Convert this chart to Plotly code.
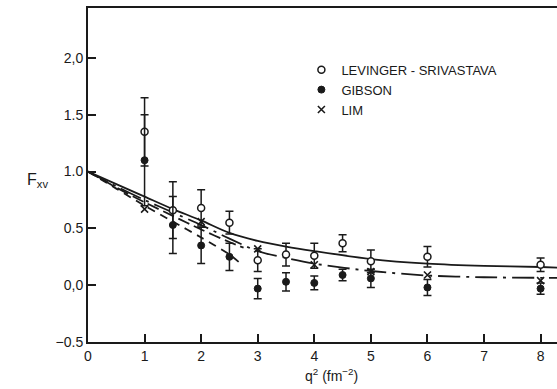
import plotly.graph_objects as go

# --- data ---
q2_lev = [1, 1.5, 2, 2.5, 3, 3.5, 4, 4.5, 5, 6, 8]
f_lev = [1.35, 0.66, 0.68, 0.55, 0.22, 0.27, 0.26, 0.37, 0.21, 0.25, 0.18]
e_lev = [0.30, 0.25, 0.16, 0.10, 0.10, 0.10, 0.11, 0.075, 0.10, 0.09, 0.06]

q2_gib = [1, 1.5, 2, 2.5, 3, 3.5, 4, 4.5, 5, 6, 8]
f_gib = [1.10, 0.53, 0.35, 0.25, -0.03, 0.03, 0.02, 0.09, 0.06, -0.02, -0.03]
e_gib = [0.40, 0.25, 0.16, 0.12, 0.09, 0.08, 0.06, 0.05, 0.08, 0.07, 0.05]

q2_lim = [1, 2, 3, 4, 5, 6, 8]
f_lim = [0.67, 0.56, 0.32, 0.18, 0.12, 0.09, 0.04]

# theory curves
q2_solid = [0, 0.5, 1, 1.5, 2, 2.5, 3, 3.5, 4, 5, 6, 7, 8, 8.3]
f_solid = [1.0, 0.89, 0.78, 0.67, 0.57, 0.46, 0.39, 0.34, 0.30, 0.23, 0.19, 0.17, 0.16, 0.155]

q2_dashdot = [0, 0.5, 1, 1.5, 2, 2.5, 3, 3.5, 4, 5, 6, 7, 8, 8.3]
f_dashdot = [1.0, 0.87, 0.75, 0.64, 0.53, 0.41, 0.30, 0.24, 0.19, 0.125, 0.085, 0.07, 0.065, 0.065]

q2_longdash = [0, 0.5, 1, 1.5, 2, 2.5, 2.75]
f_longdash = [1.0, 0.86, 0.73, 0.61, 0.49, 0.38, 0.33]

q2_shortdash = [0, 0.5, 1, 1.5, 2, 2.5, 2.7]
f_shortdash = [1.0, 0.85, 0.70, 0.56, 0.42, 0.27, 0.19]

x_ticks = [0, 1, 2, 3, 4, 5, 6, 7, 8]
x_ticklabels = ["0", "1", "2", "3", "4", "5", "6", "7", "8"]
y_ticks = [-0.5, 0.0, 0.5, 1.0, 1.5, 2.0]
y_ticklabels = ["\u22120.5", "0,0", "0.5", "1.0", "1.5", "2,0"]

FONT = "Liberation Sans, Arial, sans-serif"
BLACK = "#1a1a1a"

fig = go.Figure()

curve_styles = [
    (q2_solid, f_solid, "solid"),
    (q2_dashdot, f_dashdot, "22px,6px,3px,6px"),
    (q2_longdash, f_longdash, "12px,5px"),
    (q2_shortdash, f_shortdash, "8px,6px"),
]
for xs, ys, dash in curve_styles:
    fig.add_trace(go.Scatter(
        x=xs, y=ys, mode="lines", showlegend=False, hoverinfo="skip",
        line=dict(color=BLACK, width=1.8, dash=dash, shape="spline", smoothing=0.8),
    ))

err_style = dict(type="data", color=BLACK, thickness=1.5, width=4)

fig.add_trace(go.Scatter(
    x=q2_lev, y=f_lev, mode="markers", name="LEVINGER - SRIVASTAVA",
    marker=dict(symbol="circle", size=7, color="white", line=dict(color=BLACK, width=1.5)),
    error_y=dict(array=e_lev, **err_style),
))
fig.add_trace(go.Scatter(
    x=q2_gib, y=f_gib, mode="markers", name="GIBSON",
    marker=dict(symbol="circle", size=7, color=BLACK, line=dict(color=BLACK, width=1)),
    error_y=dict(array=e_gib, **err_style),
))
fig.add_trace(go.Scatter(
    x=q2_lim, y=f_lim, mode="markers", name="LIM",
    marker=dict(symbol="x-thin-open", size=7, color=BLACK, line=dict(color=BLACK, width=1.6)),
))

fig.update_layout(
    width=557, height=389,
    margin=dict(l=88, r=0, t=8, b=47),
    paper_bgcolor="white", plot_bgcolor="white",
    font=dict(family=FONT, size=14, color=BLACK),
    legend=dict(
        x=0.455, y=0.86, xanchor="left", yanchor="top",
        bgcolor="rgba(0,0,0,0)", font=dict(size=13, family=FONT, color=BLACK),
        itemwidth=30, tracegroupgap=0,
    ),
    xaxis=dict(
        range=[0, 8.29], tickvals=x_ticks, ticktext=x_ticklabels,
        ticks="inside", ticklen=8, tickwidth=1.5, tickcolor=BLACK,
        showline=True, linewidth=2, linecolor=BLACK, mirror=True,
        showgrid=False, zeroline=False, tickfont=dict(size=14),
    ),
    yaxis=dict(
        range=[-0.5, 2.44], tickvals=y_ticks, ticktext=y_ticklabels,
        ticks="inside", ticklen=8, tickwidth=1.5, tickcolor=BLACK,
        showline=True, linewidth=2, linecolor=BLACK, mirror=False,
        showgrid=False, zeroline=False, tickfont=dict(size=14),
    ),
    annotations=[
        dict(text="q<sup>2</sup> (fm<sup>\u22122</sup>)", x=4.3, xref="x",
             y=-0.1, yref="paper", yanchor="middle", showarrow=False,
             font=dict(size=14, family=FONT)),
        dict(text="F<sub>xv</sub>", x=-0.135, xref="paper", y=0.92, yref="y",
             yanchor="middle", showarrow=False, font=dict(size=16, family=FONT)),
    ],
)

fig.write_html("out.html")
